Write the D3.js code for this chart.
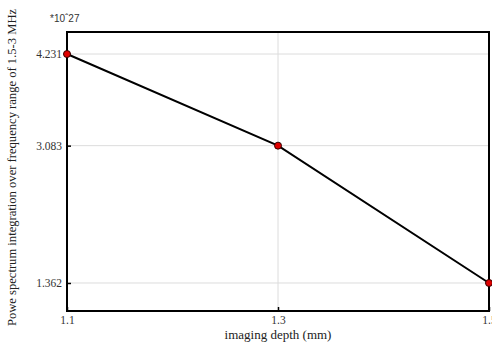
<!DOCTYPE html>
<html>
<head>
<meta charset="utf-8">
<script src="https://cdn.jsdelivr.net/npm/d3@7"></script>
<style>
  body { margin: 0; background: #fff; }
  text { font-family: "Liberation Serif", "Times New Roman", serif; }
</style>
</head>
<body>
<div id="chart"></div>
<script>
// depth in mm and integrated power (x 10^27)
var depths = [1.1, 1.3, 1.5];
var power = [4.231, 3.083, 1.362];
var xTicks = [1.1, 1.3, 1.5];
var yTicks = [1.362, 3.083, 4.231];

var margin = {top: 32, right: 3, bottom: 34, left: 67},
    width = 492 - margin.left - margin.right,
    height = 345 - margin.top - margin.bottom;

var svg = d3.select("#chart")
  .append("svg")
  .attr("width", 492)
  .attr("height", 345)
  .append("g")
  .attr("transform", "translate(" + margin.left + "," + margin.top + ")");

var x = d3.scaleLinear()
  .domain([1.1, 1.5])
  .range([0, width]);

var y = d3.scaleLinear()
  .domain([1.011, 4.507])
  .range([height, 0]);

// grid
svg.append("g")
  .selectAll("line")
  .data(yTicks)
  .enter()
  .append("line")
    .attr("x1", 0).attr("x2", width)
    .attr("y1", function(d) { return y(d); })
    .attr("y2", function(d) { return y(d); })
    .attr("stroke", "#dcdcdc").attr("stroke-width", 1);

svg.append("g")
  .selectAll("line")
  .data(xTicks)
  .enter()
  .append("line")
    .attr("y1", 0).attr("y2", height)
    .attr("x1", function(d) { return x(d); })
    .attr("x2", function(d) { return x(d); })
    .attr("stroke", "#dcdcdc").attr("stroke-width", 1);

// axes, ticks pointing inward
var xAxis = svg.append("g")
  .attr("transform", "translate(0," + height + ")")
  .call(d3.axisBottom(x).tickValues(xTicks).tickSize(-4).tickPadding(5)
    .tickFormat(d3.format(".1f")));

var yAxis = svg.append("g")
  .call(d3.axisLeft(y).tickValues(yTicks).tickSize(-4).tickPadding(5)
    .tickFormat(d3.format(".3f")));

[xAxis, yAxis].forEach(function(a) {
  a.select(".domain").remove();
  a.selectAll(".tick line").attr("stroke", "#000").attr("stroke-width", 1.5);
  a.selectAll(".tick text")
    .style("font-family", "Liberation Serif")
    .style("font-size", "11.5px")
    .attr("fill", "#333");
});

// box
svg.append("rect")
  .attr("x", 0).attr("y", 0)
  .attr("width", width).attr("height", height)
  .attr("fill", "none")
  .attr("stroke", "#000")
  .attr("stroke-width", 2);

// line and markers
var line = d3.line()
  .x(function(d, i) { return x(depths[i]); })
  .y(function(d) { return y(d); });

svg.append("path")
  .datum(power)
  .attr("d", line)
  .attr("fill", "none")
  .attr("stroke", "#000")
  .attr("stroke-width", 2);

svg.selectAll("circle")
  .data(power)
  .enter()
  .append("circle")
    .attr("cx", function(d, i) { return x(depths[i]); })
    .attr("cy", function(d) { return y(d); })
    .attr("r", 3.5)
    .attr("fill", "#e00000")
    .attr("stroke", "#300")
    .attr("stroke-width", 1);

// exponent
svg.append("text")
  .attr("x", -17)
  .attr("y", -10)
  .style("font-family", "Liberation Sans")
  .style("font-size", "10px")
  .attr("fill", "#333")
  .text("*10ˆ27");

// labels
svg.append("text")
  .attr("text-anchor", "middle")
  .attr("x", width / 2)
  .attr("y", height + 28)
  .style("font-size", "13px")
  .attr("fill", "#222")
  .text("imaging depth (mm)");

svg.append("text")
  .attr("text-anchor", "middle")
  .attr("transform", "translate(" + (-51) + "," + (height / 2 - 4) + ") rotate(-90)")
  .style("font-size", "12.6px")
  .attr("fill", "#222")
  .text("Powe spectrum integration over frequency range of 1.5-3 MHz");
</script>
</body>
</html>
